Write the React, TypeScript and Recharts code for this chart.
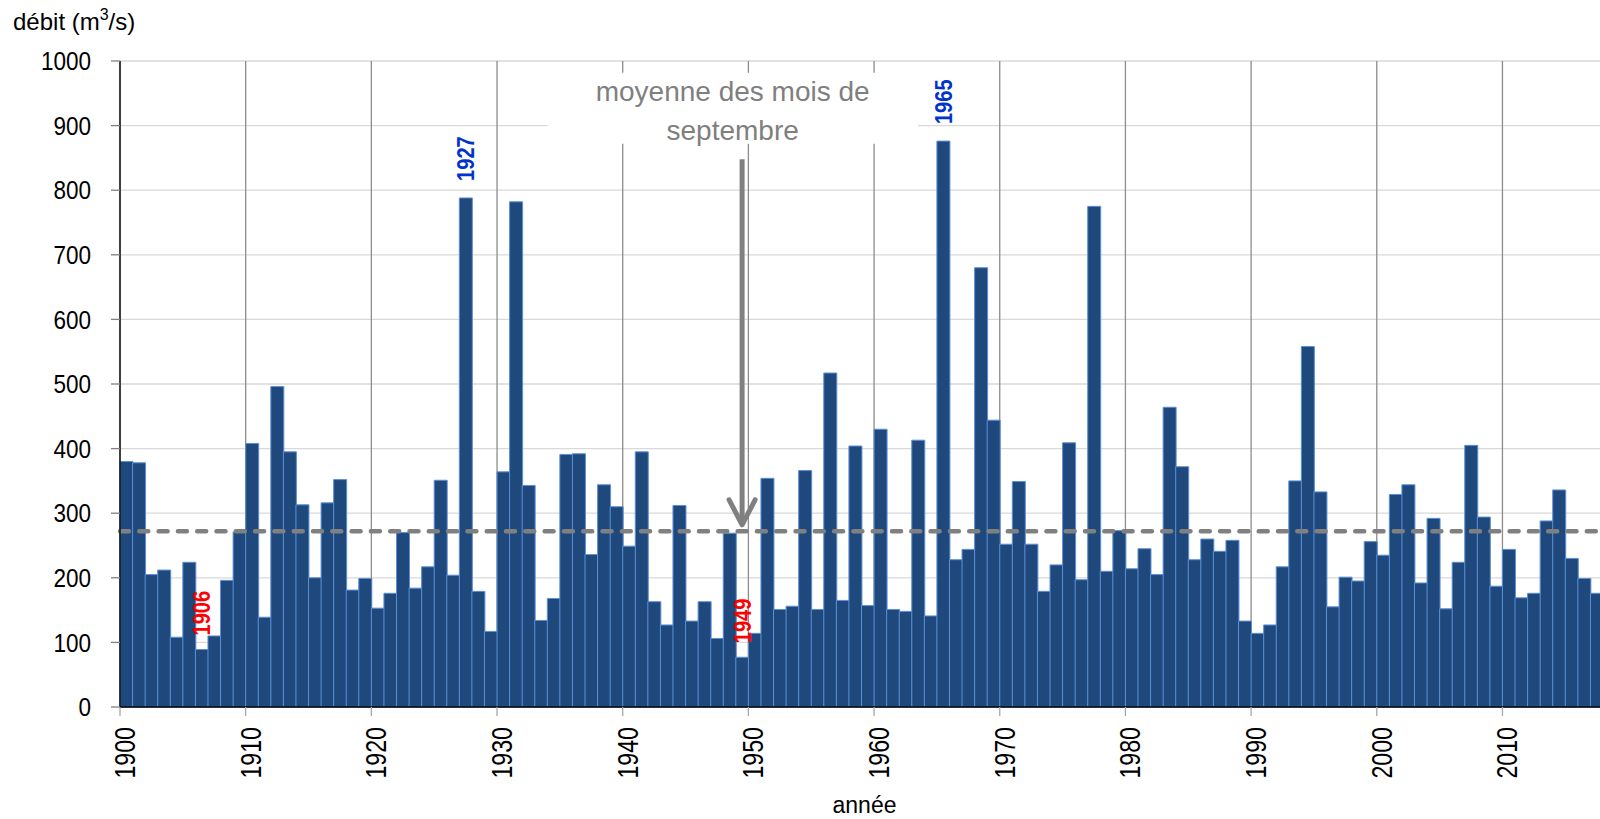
import React from 'react';
import {
  BarChart,
  Bar,
  XAxis,
  YAxis,
  CartesianGrid,
  ReferenceLine,
  ReferenceArea,
  LabelList
} from 'recharts';

// débit moyen de septembre, une valeur par année depuis 1900
const FLOWS = [
  380, 378, 205, 212, 108, 224, 89, 110, 196, 271,
  408, 139, 496, 395, 313, 200, 316, 352, 181, 199,
  153, 176, 270, 184, 217, 351, 204, 788, 179, 117,
  364, 782, 343, 134, 168, 391, 392, 236, 344, 310,
  249, 395, 163, 127, 312, 133, 163, 106, 269, 77,
  114, 354, 151, 156, 366, 151, 517, 165, 404, 157,
  430, 151, 148, 413, 141, 876, 228, 244, 680, 444,
  252, 349, 252, 179, 220, 409, 197, 775, 210, 273,
  214, 245, 205, 464, 372, 228, 260, 241, 258, 133,
  114, 127, 217, 350, 558, 333, 155, 201, 195, 256,
  235, 329, 344, 192, 292, 152, 224, 405, 294, 187,
  244, 169, 176, 288, 336, 230, 199, 176
];
const FIRST_YEAR = 1900;
const YEARS = FLOWS.map((_, i) => FIRST_YEAR + i);
const DECADES = [1900, 1910, 1920, 1930, 1940, 1950, 1960, 1970, 1980, 1990, 2000, 2010];
const Y_TICKS = [0, 100, 200, 300, 400, 500, 600, 700, 800, 900, 1000];
const MEAN = 272;
const LOW_YEARS = ['1906', '1949'];
const HIGH_YEARS = ['1927', '1965'];
const NOTE_LINES = ['moyenne des mois de', 'septembre'];
const NOTE_BOX = { x1: 1934, x2: 1963.5, y1: 872, y2: 982 };
const ARROW = { x: 1949.5, from: 848, to: 282 };

const data = YEARS.map((y, i) => ({ year: String(y), yearNum: y, flow: FLOWS[i] }));

const FONT = "'Liberation Sans', Arial, sans-serif";
const GREY = '#808080';
// the original uses a narrow face: squeeze the regular one along the text
const NARROW = 0.82;

const YearTick = (props: any) => {
  const { x, y, payload } = props;
  const tx = x + 5;
  const ty = y + 11;
  return (
    <text
      transform={`translate(${tx}, ${ty}) rotate(-90) scale(${NARROW - 0.02}, 1)`}
      textAnchor="end"
      dominantBaseline="central"
      fontSize={29}
      fill="#000"
    >
      {payload.value}
    </text>
  );
};

const FlowTick = (props: any) => {
  const { x, y, payload } = props;
  return (
    <text
      transform={`translate(${x}, ${y}) scale(0.85, 1)`}
      textAnchor="end"
      dominantBaseline="central"
      fontSize={26.5}
      fill="#000"
    >
      {payload.value}
    </text>
  );
};

const YTitle = (props: any) => {
  const vb = props.viewBox || {};
  return (
    <text x={(vb.x || 0) + 13} y={(vb.y || 61) - 31} fontSize={24} fill="#000">
      débit (m
      <tspan dy={-10} fontSize={16}>3</tspan>
      <tspan dy={10}>/s)</tspan>
    </text>
  );
};

const YearLabel = (props: any) => {
  const value = String(props.value);
  const low = LOW_YEARS.includes(value);
  const high = HIGH_YEARS.includes(value);
  if (!low && !high) return null;
  const vb = props.viewBox || props;
  const cx = vb.x + vb.width / 2;
  const ty = vb.y - (low ? 14 : 17);
  return (
    <text
      transform={`translate(${cx}, ${ty}) rotate(-90) scale(${NARROW}, 1)`}
      textAnchor="start"
      dominantBaseline="central"
      fontSize={24.5}
      fontWeight="bold"
      fill={high ? '#0033CC' : '#FF0000'}
    >
      {value}
    </text>
  );
};

const NoteLabel = (props: any) => {
  const { x, y, width } = props.viewBox;
  const cx = x + width / 2;
  return (
    <text textAnchor="middle" fontSize={28} fill="#7F7F7F">
      <tspan x={cx} y={y + 28.7}>{NOTE_LINES[0]}</tspan>
      <tspan x={cx} y={y + 67}>{NOTE_LINES[1]}</tspan>
    </text>
  );
};

const ArrowShape = (props: any) => {
  const { x1, y1, x2, y2 } = props;
  return (
    <g>
      <line x1={x1} y1={y1} x2={x2} y2={y2 - 3} stroke={GREY} strokeWidth={5} />
      <polyline
        points={`${x2 - 13},${y2 - 25} ${x2},${y2} ${x2 + 13},${y2 - 25}`}
        fill="none"
        stroke={GREY}
        strokeWidth={5}
        strokeLinecap="round"
        strokeLinejoin="round"
      />
    </g>
  );
};

export default function App() {
  return (
    <div
      style={{
        position: 'absolute',
        left: 0,
        top: 0,
        width: 1600,
        height: 819,
        overflow: 'hidden',
        background: '#fff',
        fontFamily: FONT
      }}
    >
      <BarChart
        width={1603}
        height={819}
        data={data}
        margin={{ top: 61, right: 0, bottom: 0, left: 0 }}
        barCategoryGap={0}
        barGap={0}
      >
        <CartesianGrid vertical={false} stroke="#D9D9D9" strokeWidth={1.3} />
        <CartesianGrid xAxisId="yr" horizontal={false} stroke="#8C8C8C" strokeWidth={1.3} />
        <XAxis dataKey="year" hide height={0} />
        <XAxis
          xAxisId="yr"
          type="number"
          dataKey="yearNum"
          domain={[1900, 2018]}
          allowDataOverflow
          ticks={DECADES}
          interval={0}
          height={112}
          tickSize={9}
          tickMargin={0}
          tickLine={{ stroke: '#A6A6A6', strokeWidth: 1.3 }}
          axisLine={{ stroke: '#000', strokeWidth: 1.3 }}
          tick={<YearTick />}
          label={{ value: 'année', position: 'insideBottom', offset: 6, dx: 3, fontSize: 23, fill: '#000' }}
        />
        <YAxis
          domain={[0, 1000]}
          ticks={Y_TICKS}
          interval={0}
          width={120}
          tickSize={9}
          tickMargin={20}
          tickLine={{ stroke: GREY, strokeWidth: 1.3 }}
          axisLine={{ stroke: '#000', strokeWidth: 1.3 }}
          tick={<FlowTick />}
          label={<YTitle />}
        />
        <ReferenceArea
          xAxisId="yr"
          x1={NOTE_BOX.x1}
          x2={NOTE_BOX.x2}
          y1={NOTE_BOX.y1}
          y2={NOTE_BOX.y2}
          fill="#fff"
          fillOpacity={1}
          stroke="none"
          label={<NoteLabel />}
        />
        <Bar
          dataKey="flow"
          fill="#1F497D"
          stroke="#5B8FD6"
          strokeWidth={1}
          isAnimationActive={false}
        >
          <LabelList dataKey="year" content={<YearLabel />} />
        </Bar>
        <ReferenceLine
          y={MEAN}
          stroke={GREY}
          strokeWidth={4.5}
          strokeDasharray="9 10.3"
          strokeLinecap="round"
        />
        <ReferenceLine
          xAxisId="yr"
          segment={[
            { x: ARROW.x, y: ARROW.from },
            { x: ARROW.x, y: ARROW.to }
          ]}
          shape={ArrowShape}
        />
      </BarChart>
    </div>
  );
}
